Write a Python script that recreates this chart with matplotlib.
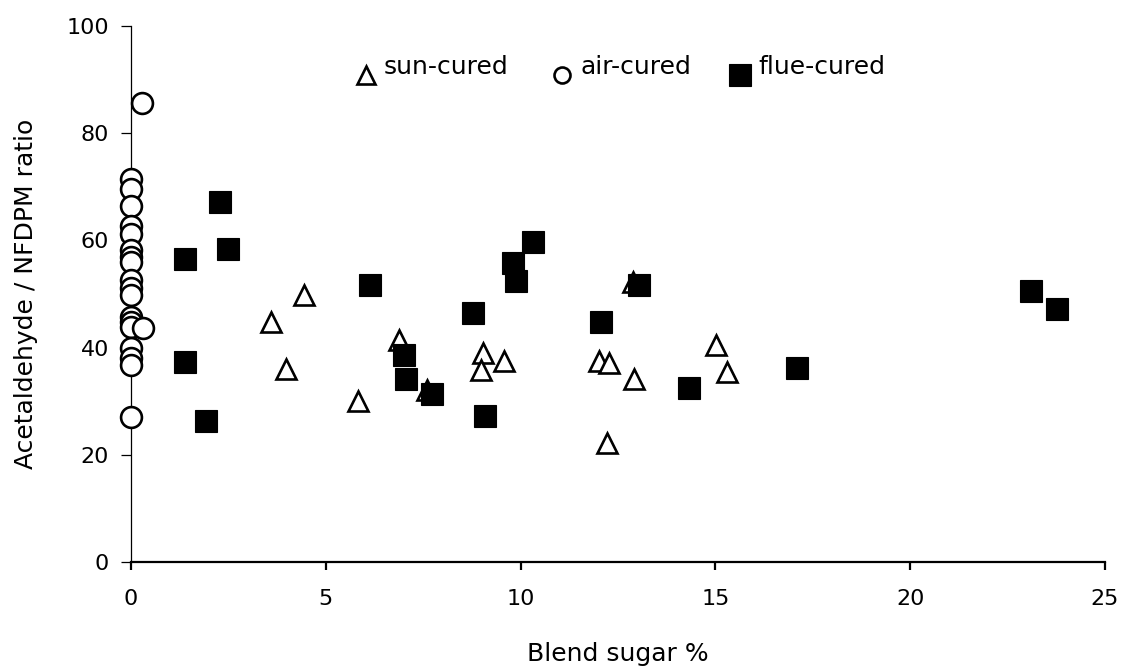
import matplotlib
matplotlib.use("Agg")
import matplotlib.pyplot as plt

plt.rcParams['font.family'] = ['DejaVu Sans']

# Blend sugar % and acetaldehyde / NFDPM ratio, by curing type
sun_sugar = [4.44, 3.59, 3.98, 5.83, 6.88, 7.60, 9.03, 8.98, 9.57,
             12.01, 12.27, 12.91, 15.02, 15.30, 12.22, 12.88]
sun_ratio = [49.8, 44.8, 36.0, 30.0, 41.4, 32.1, 39.0, 35.8, 37.5,
             37.5, 37.1, 34.1, 40.5, 35.4, 22.2, 52.2]

air_sugar = [0.0, 0.0, 0.0, 0.0, 0.0, 0.0, 0.0, 0.0, 0.0, 0.0,
             0.0, 0.0, 0.0, 0.0, 0.0, 0.0, 0.0, 0.0, 0.28, 0.31]
air_ratio = [71.5, 69.6, 66.4, 62.7, 61.2, 58.2, 56.9, 56.0, 52.6, 51.1,
             49.8, 45.7, 44.8, 43.8, 39.9, 38.1, 36.8, 27.1, 85.6, 43.7]

flue_sugar = [2.28, 1.39, 2.49, 6.13, 1.39, 1.93, 7.01, 7.06, 7.73, 8.78,
              9.09, 9.80, 9.88, 10.32, 12.06, 13.04, 14.32, 17.09, 23.10, 23.77]
flue_ratio = [67.2, 56.5, 58.4, 51.7, 37.3, 26.3, 38.6, 34.1, 31.3, 46.5,
              27.2, 55.8, 52.4, 59.7, 44.8, 51.7, 32.5, 36.2, 50.6, 47.2]

labels = ['sun-cured', 'air-cured', 'flue-cured']
x_ticks = [0, 5, 10, 15, 20, 25]
y_ticks = [0, 20, 40, 60, 80, 100]

fig = plt.figure(figsize=(11.23, 6.71), dpi=100)
ax = fig.add_axes([0.1167, 0.1624, 0.8673, 0.7989])

sun_style = dict(marker='^', mfc='white', mec='black', mew=1.9)
air_style = dict(marker='o', mfc='white', mec='black', mew=1.9)
flue_style = dict(marker='s', mfc='black', mec='black', mew=0.8)

ax.plot(sun_sugar, sun_ratio, linestyle='none', ms=15, clip_on=False,
        zorder=3, **sun_style)
ax.plot(air_sugar, air_ratio, linestyle='none', ms=15, clip_on=False,
        zorder=3, **air_style)
ax.plot(flue_sugar, flue_ratio, linestyle='none', ms=15.5, clip_on=False,
        zorder=3, **flue_style)

ax.set_xlim(0, 25)
ax.set_ylim(0, 100)
ax.set_xticks(x_ticks)
ax.set_yticks(y_ticks)
ax.spines['top'].set_visible(False)
ax.spines['right'].set_visible(False)
ax.spines['left'].set_linewidth(0.9)
ax.spines['bottom'].set_linewidth(1.6)
ax.tick_params(axis='y', direction='out', length=7, width=0.9, pad=9,
               labelsize=16)
ax.tick_params(axis='x', direction='out', length=5.5, width=1.6, pad=14,
               labelsize=16)

ax.set_xlabel('Blend sugar %', fontsize=18, labelpad=24)
ax.set_ylabel('Acetaldehyde / NFDPM ratio', fontsize=18, labelpad=20)

# key across the top: marker sits a little below its label
key_x = [0.2413, 0.4425, 0.6253]
key_ms = [12.5, 11.5, 16]
for kx, ms, style, text in zip(key_x, key_ms,
                               [sun_style, air_style, flue_style], labels):
    ax.plot([kx], [0.9086], transform=ax.transAxes, linestyle='none',
            ms=ms, clip_on=False, **style)
    ax.text(kx + 0.0185, 0.9235, text, transform=ax.transAxes,
            fontsize=18, ha='left', va='center')

fig.savefig('out.png', dpi=100)
